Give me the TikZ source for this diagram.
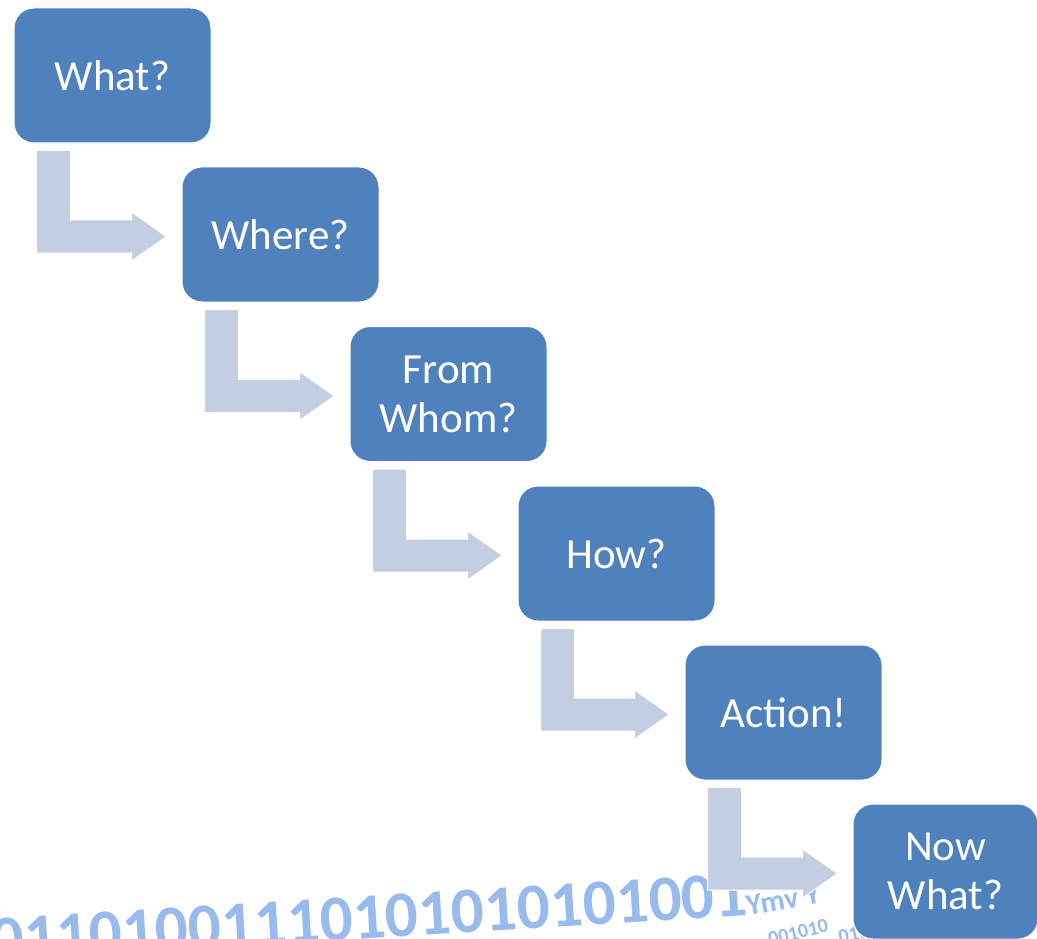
\documentclass[tikz,border=0pt]{standalone}
\usepackage{fontspec}
\setmainfont{Carlito}
\usetikzlibrary{calc}
\definecolor{stepblue}{HTML}{4F81BD}
\definecolor{flowgray}{HTML}{C3CEE2}
\definecolor{bitblue}{HTML}{86AEEA}
\tikzset{
  stepbox/.style={fill=stepblue, draw=white, line width=1pt, rounded corners=20pt,
    minimum width=197pt, minimum height=135pt, inner sep=0pt, text=white,
    align=center, font=\fontsize{43}{49}\selectfont},
  flowarrow/.style={fill=flowgray, draw=white, line width=1pt},
  bits/.style={text=bitblue, opacity=0.85, inner sep=0pt, font=\bfseries}
}
% bent block arrow from the lower left of one box to the west side of the next
\newcommand{\bentarrow}[2]{%
  \path[flowarrow] let \p1=(#1.south west), \p2=(#2.west) in
    (\x1+23pt,\y1-7pt) -- (\x1+57pt,\y1-7pt) -- (\x1+57pt,\y2+14.5pt)
    -- (\x2-50pt,\y2+14.5pt) -- (\x2-50pt,\y2+22.5pt) -- (\x2-15pt,\y2-2pt)
    -- (\x2-50pt,\y2-26.5pt) -- (\x2-50pt,\y2-18.5pt) -- (\x1+23pt,\y2-18.5pt)
    -- cycle;}
\begin{document}
\begin{tikzpicture}[x=1pt,y=-1pt]
\useasboundingbox (0,0) rectangle (1037,939);
\clip (0,0) rectangle (1037,939);
% binary digits along the bottom
\node[bits, anchor=base west, rotate=3.5, font=\bfseries\fontsize{65}{65}\selectfont]
  (bitsA) at (-8,962) {01101001110101010101001};
\node[bits, anchor=base west, rotate=10, font=\bfseries\fontsize{30}{30}\selectfont]
  (bitsC) at (748,916) {Ymv Y};
\node[bits, anchor=base west, rotate=14, font=\bfseries\fontsize{20}{20}\selectfont]
  (bitsB) at (770,946) {001010};
\node[bits, anchor=base west, rotate=12, font=\bfseries\fontsize{20}{20}\selectfont]
  (bitsD) at (840,944) {0101};
% the steps
\node[stepbox] (what)   at (112.5,75.5)  {What?};
\node[stepbox] (where)  at (280.5,234.5) {Where?};
\node[stepbox] (whom)   at (448.5,394)   {From\\Whom?};
\node[stepbox] (how)    at (616.5,553.5) {How?};
\node[stepbox] (action) at (783.5,712.5) {Action!};
\node[stepbox, minimum width=185pt] (now) at (945.5,871.5) {Now\\What?};
% flow between the steps
\bentarrow{what}{where}
\bentarrow{where}{whom}
\bentarrow{whom}{how}
\bentarrow{how}{action}
\bentarrow{action}{now}
% redraw the last box over its incoming arrow
\node[stepbox, minimum width=185pt] at (now) {Now\\What?};
\end{tikzpicture}
\end{document}
